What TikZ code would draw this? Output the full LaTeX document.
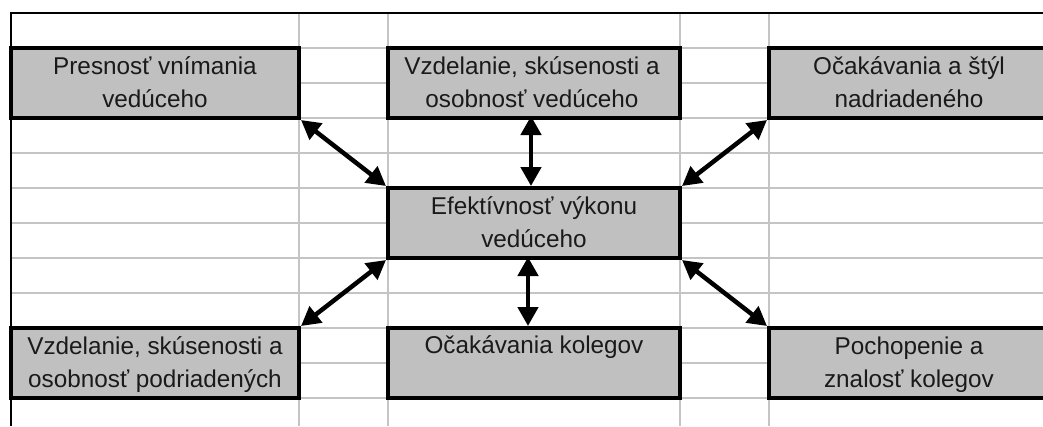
\documentclass[tikz,border=0pt]{standalone}
\usepackage{fontspec}
\setmainfont{Liberation Sans}
\usetikzlibrary{arrows.meta}
\definecolor{cellgray}{HTML}{C0C0C0}
\definecolor{gridgray}{HTML}{C4C4C4}
\definecolor{inkcol}{HTML}{1A1A1A}
\tikzset{
  gridline/.style={draw=gridgray, line width=1.6pt},
  frameline/.style={draw=black, line width=2.6pt},
  cellbox/.style={rectangle, draw=black, fill=cellgray, line width=4pt,
    minimum height=70pt, inner sep=0pt},
  widebox/.style={cellbox, minimum width=288pt},
  midbox/.style={cellbox, minimum width=292pt},
  celltext/.style={anchor=base, align=center, inner sep=0pt, text=inkcol,
    font=\fontsize{24.3}{33}\selectfont},
  link/.style={draw=black, line width=4.5pt,
    {Triangle[length=19pt,width=20pt]}-{Triangle[length=19pt,width=20pt]}}
}
\begin{document}
\begin{tikzpicture}[x=1pt,y=-1pt]
  \useasboundingbox (0,0) rectangle (1043,426);
  \clip (0,0) rectangle (1043,426);

  % spreadsheet grid behind the diagram
  \foreach \r in {48,83,...,398} \draw[gridline] (11,\r) -- (1043,\r);
  \foreach \c in {299,388,680,769} \draw[gridline] (\c,13) -- (\c,426);
  \draw[frameline] (10,13) -- (1043,13);
  \draw[frameline] (11,12) -- (11,426);

  % boxes
  \node[widebox] (tl) at (155,83) {};
  \node[midbox]  (tc) at (534,83) {};
  \node[widebox] (tr) at (913,83) {};
  \node[midbox]  (c)  at (534,223) {};
  \node[widebox] (bl) at (155,363) {};
  \node[midbox]  (bc) at (534,363) {};
  \node[widebox] (br) at (913,363) {};

  % labels (base = baseline of the last line)
  \node[celltext] (tlt) at ([yshift=-61pt]tl.north) {Presnosť vnímania\\vedúceho};
  \node[celltext] (tct) at ([yshift=-61pt,xshift=-2pt]tc.north) {Vzdelanie, skúsenosti a\\osobnosť vedúceho};
  \node[celltext] (trt) at ([yshift=-61pt,xshift=-4pt]tr.north) {Očakávania a štýl\\nadriadeného};
  \node[celltext] (ct)  at ([yshift=-61pt]c.north)  {Efektívnosť výkonu\\vedúceho};
  \node[celltext] (blt) at ([yshift=-61pt]bl.north) {Vzdelanie, skúsenosti a\\osobnosť podriadených};
  \node[celltext] (bct) at ([yshift=-27pt]bc.north) {Očakávania kolegov};
  \node[celltext] (brt) at ([yshift=-61pt,xshift=-4pt]br.north) {Pochopenie a\\znalosť kolegov};

  % two-way connectors
  \draw[link] (tl.south east) -- (c.north west);
  \draw[link] ([xshift=-3pt,yshift=4pt]tc.south) -- ([xshift=-3pt]c.north);
  \draw[link] (tr.south west) -- (c.north east);
  \draw[link] (bl.north east) -- (c.south west);
  \draw[link] ([xshift=-6pt,yshift=3pt]c.south) -- ([xshift=-6pt]bc.north);
  \draw[link] (br.north west) -- (c.south east);
\end{tikzpicture}
\end{document}
